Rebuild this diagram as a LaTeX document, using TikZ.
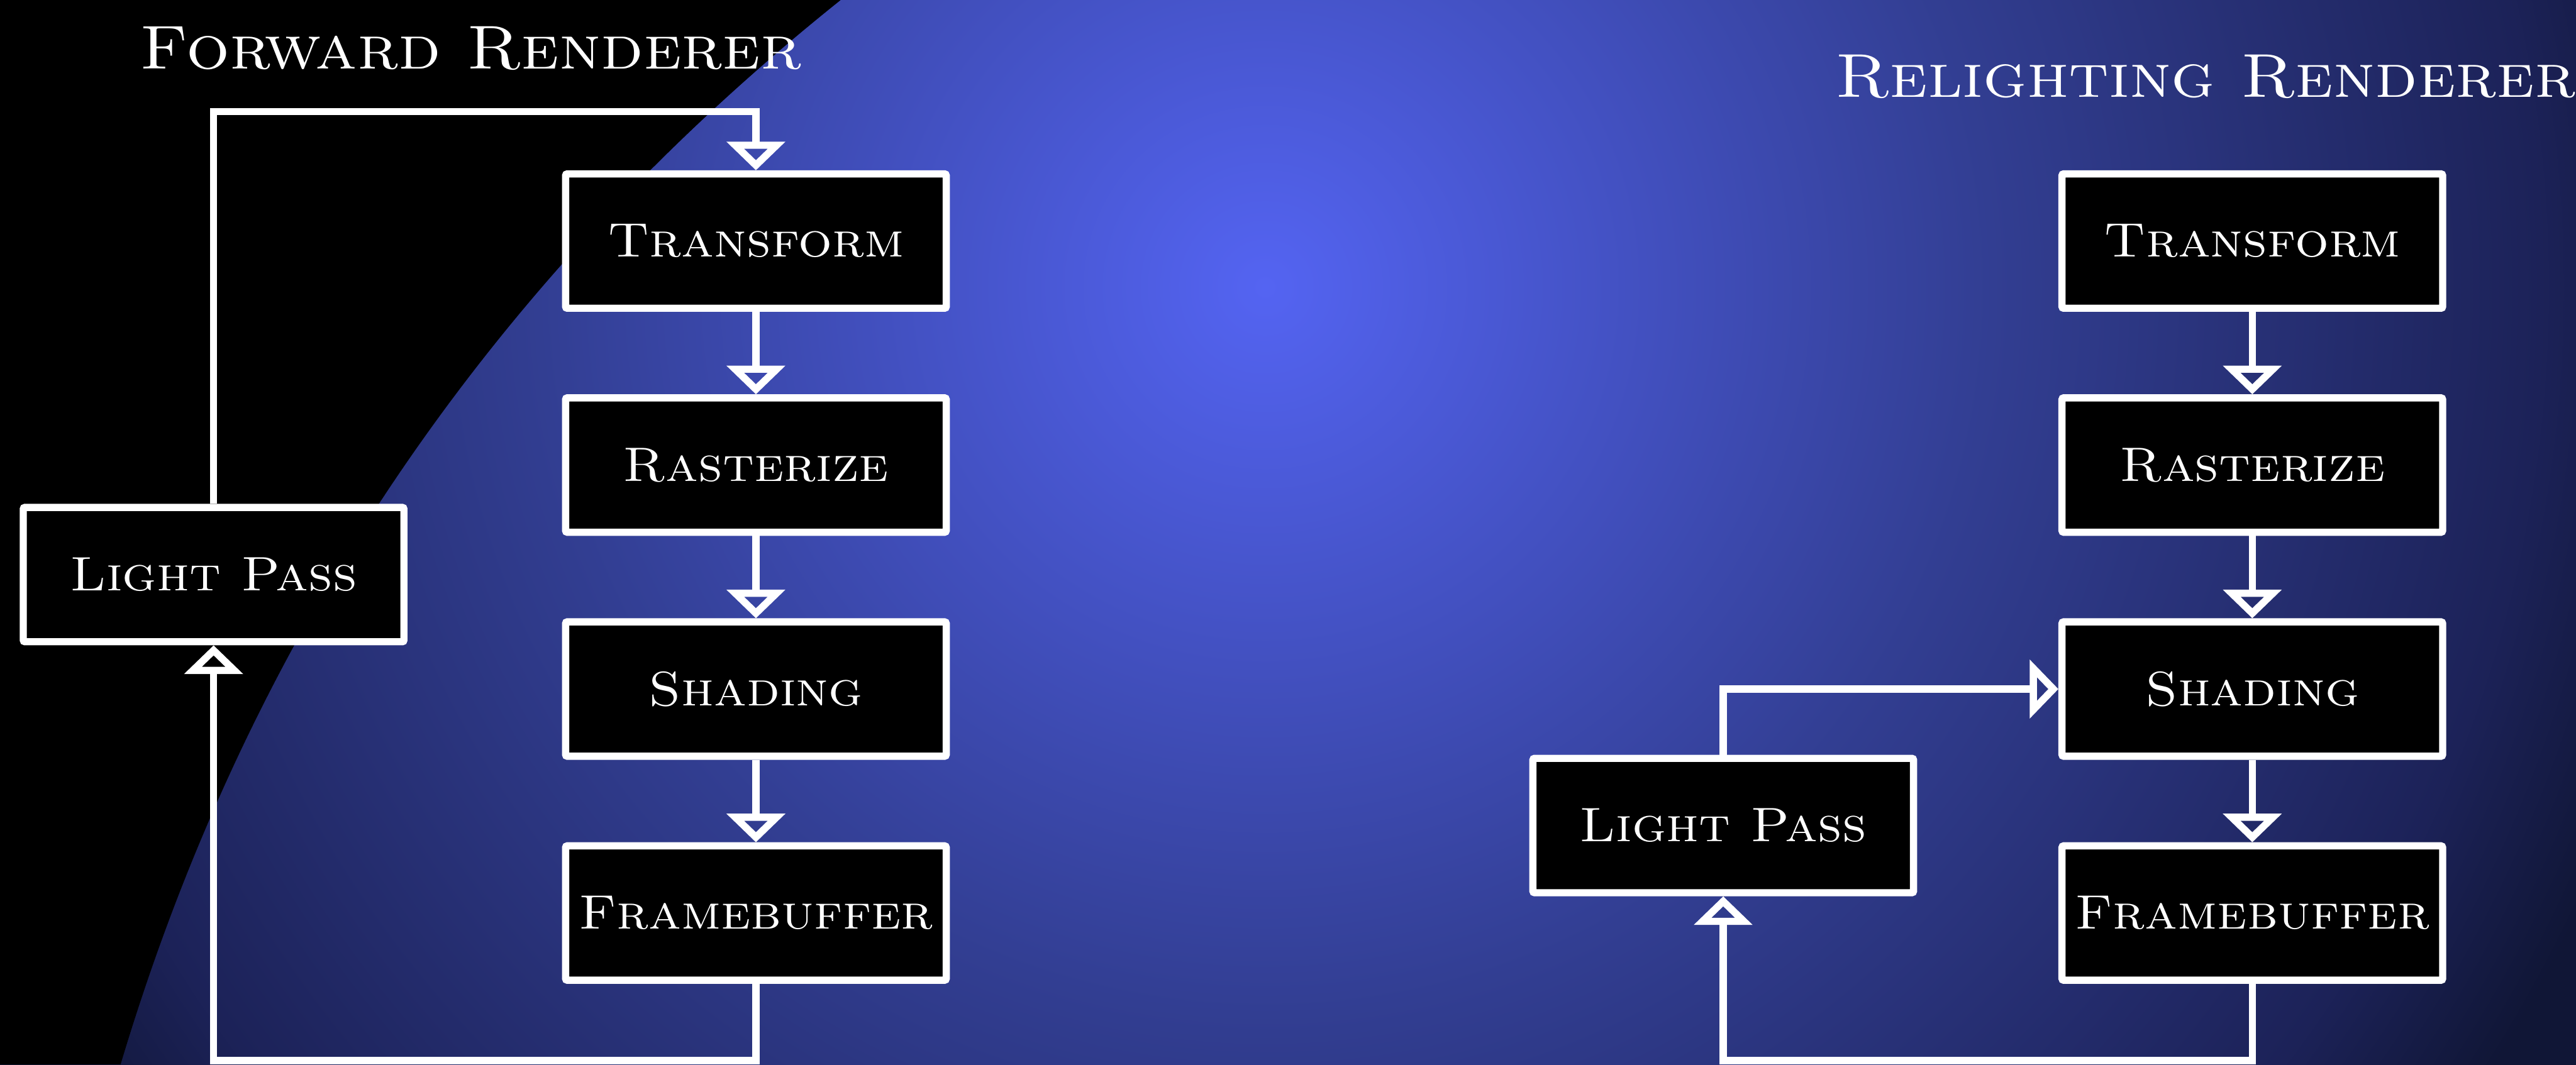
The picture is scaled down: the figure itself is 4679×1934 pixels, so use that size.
\documentclass[tikz,border=0pt]{standalone}
\usepackage{fontspec}
\usepackage{graphicx}
\usetikzlibrary{arrows.meta}

% slide background colours
\definecolor{bgA}{RGB}{84,100,242}
\definecolor{bgB}{RGB}{50,62,146}
\definecolor{bgC}{RGB}{28,34,88}
\definecolor{bgD}{RGB}{16,22,54}

% radial glow; the inner 25bp radius fills the shaded circle
\pgfdeclareradialshading{slidebg}{\pgfpoint{0bp}{0bp}}{%
  color(0bp)=(bgA); color(11bp)=(bgB); color(19.3bp)=(bgC);
  color(22bp)=(bgD); color(25bp)=(bgD); color(50bp)=(bgD)}

\newcommand\stretchtext[1]{\scalebox{1.1}[1]{#1}}
\newcommand\stagefont{\fontsize{25pt}{30pt}\selectfont\scshape}
\newcommand\titlefont{\fontsize{32pt}{38pt}\selectfont\scshape}

\tikzset{
  stage/.style={draw=white, line width=0.13cm, fill=black, text=white,
    minimum width=6.91cm, minimum height=2.44cm, inner sep=0pt,
    rounded corners=0.03cm, font=\stagefont},
  heading/.style={text=white, anchor=base, inner sep=0pt, font=\titlefont},
  link/.style={draw=white, line width=0.13cm,
    -{Triangle[open, length=0.52cm, width=1.04cm]}},
}

\begin{document}
\begin{tikzpicture}[x=0.01cm, y=-0.01cm]
\useasboundingbox (0,0) rectangle (4679,1934);

% background: radial blue glow with a black sweep on the left
\begin{scope}
  \clip (0,0) rectangle (4679,1934);
  \shade[shading=slidebg] (2298,522) circle (30cm);
  \fill[black] (0,0) -- (1527,0)
    .. controls (888,511) and (452,1155) .. (219,1934)
    -- (0,1934) -- cycle;
\end{scope}

% headings
\node[heading] (fwdtitle) at (855,125) {\stretchtext{Forward Renderer}};
\node[heading] (reltitle) at (4006,176) {\stretchtext{Relighting Renderer}};

% forward renderer pipeline
\node[stage] (ft) at (1373,438) {\stretchtext{Transform}};
\node[stage] (fr) at (1373,845) {\stretchtext{Rasterize}};
\node[stage] (fs) at (1373,1252) {\stretchtext{Shading}};
\node[stage] (ff) at (1373,1659) {\stretchtext{Framebuffer}};
\node[stage] (fl) at (388,1044) {\stretchtext{Light Pass}};

% relighting renderer pipeline
\node[stage] (rt) at (4091,438) {\stretchtext{Transform}};
\node[stage] (rr) at (4091,845) {\stretchtext{Rasterize}};
\node[stage] (rs) at (4091,1252) {\stretchtext{Shading}};
\node[stage] (rf) at (4091,1659) {\stretchtext{Framebuffer}};
\node[stage] (rl) at (3130,1500) {\stretchtext{Light Pass}};

\coordinate (ftop) at (388,203);
\coordinate (fbot) at (388,1927);
\coordinate (rbot) at (3130,1927);

% forward connectors
\draw[link] (ft) -- (fr);
\draw[link] (fr) -- (fs);
\draw[link] (fs) -- (ff);
\draw[link] (fl.north) -- (ftop) -| (ft.north);
\draw[link] (ff.south) |- (fbot) -- (fl.south);

% relighting connectors
\draw[link] (rt) -- (rr);
\draw[link] (rr) -- (rs);
\draw[link] (rs) -- (rf);
\draw[link] (rl.north) |- (rs.west);
\draw[link] (rf.south) |- (rbot) -- (rl.south);
\end{tikzpicture}
\end{document}
